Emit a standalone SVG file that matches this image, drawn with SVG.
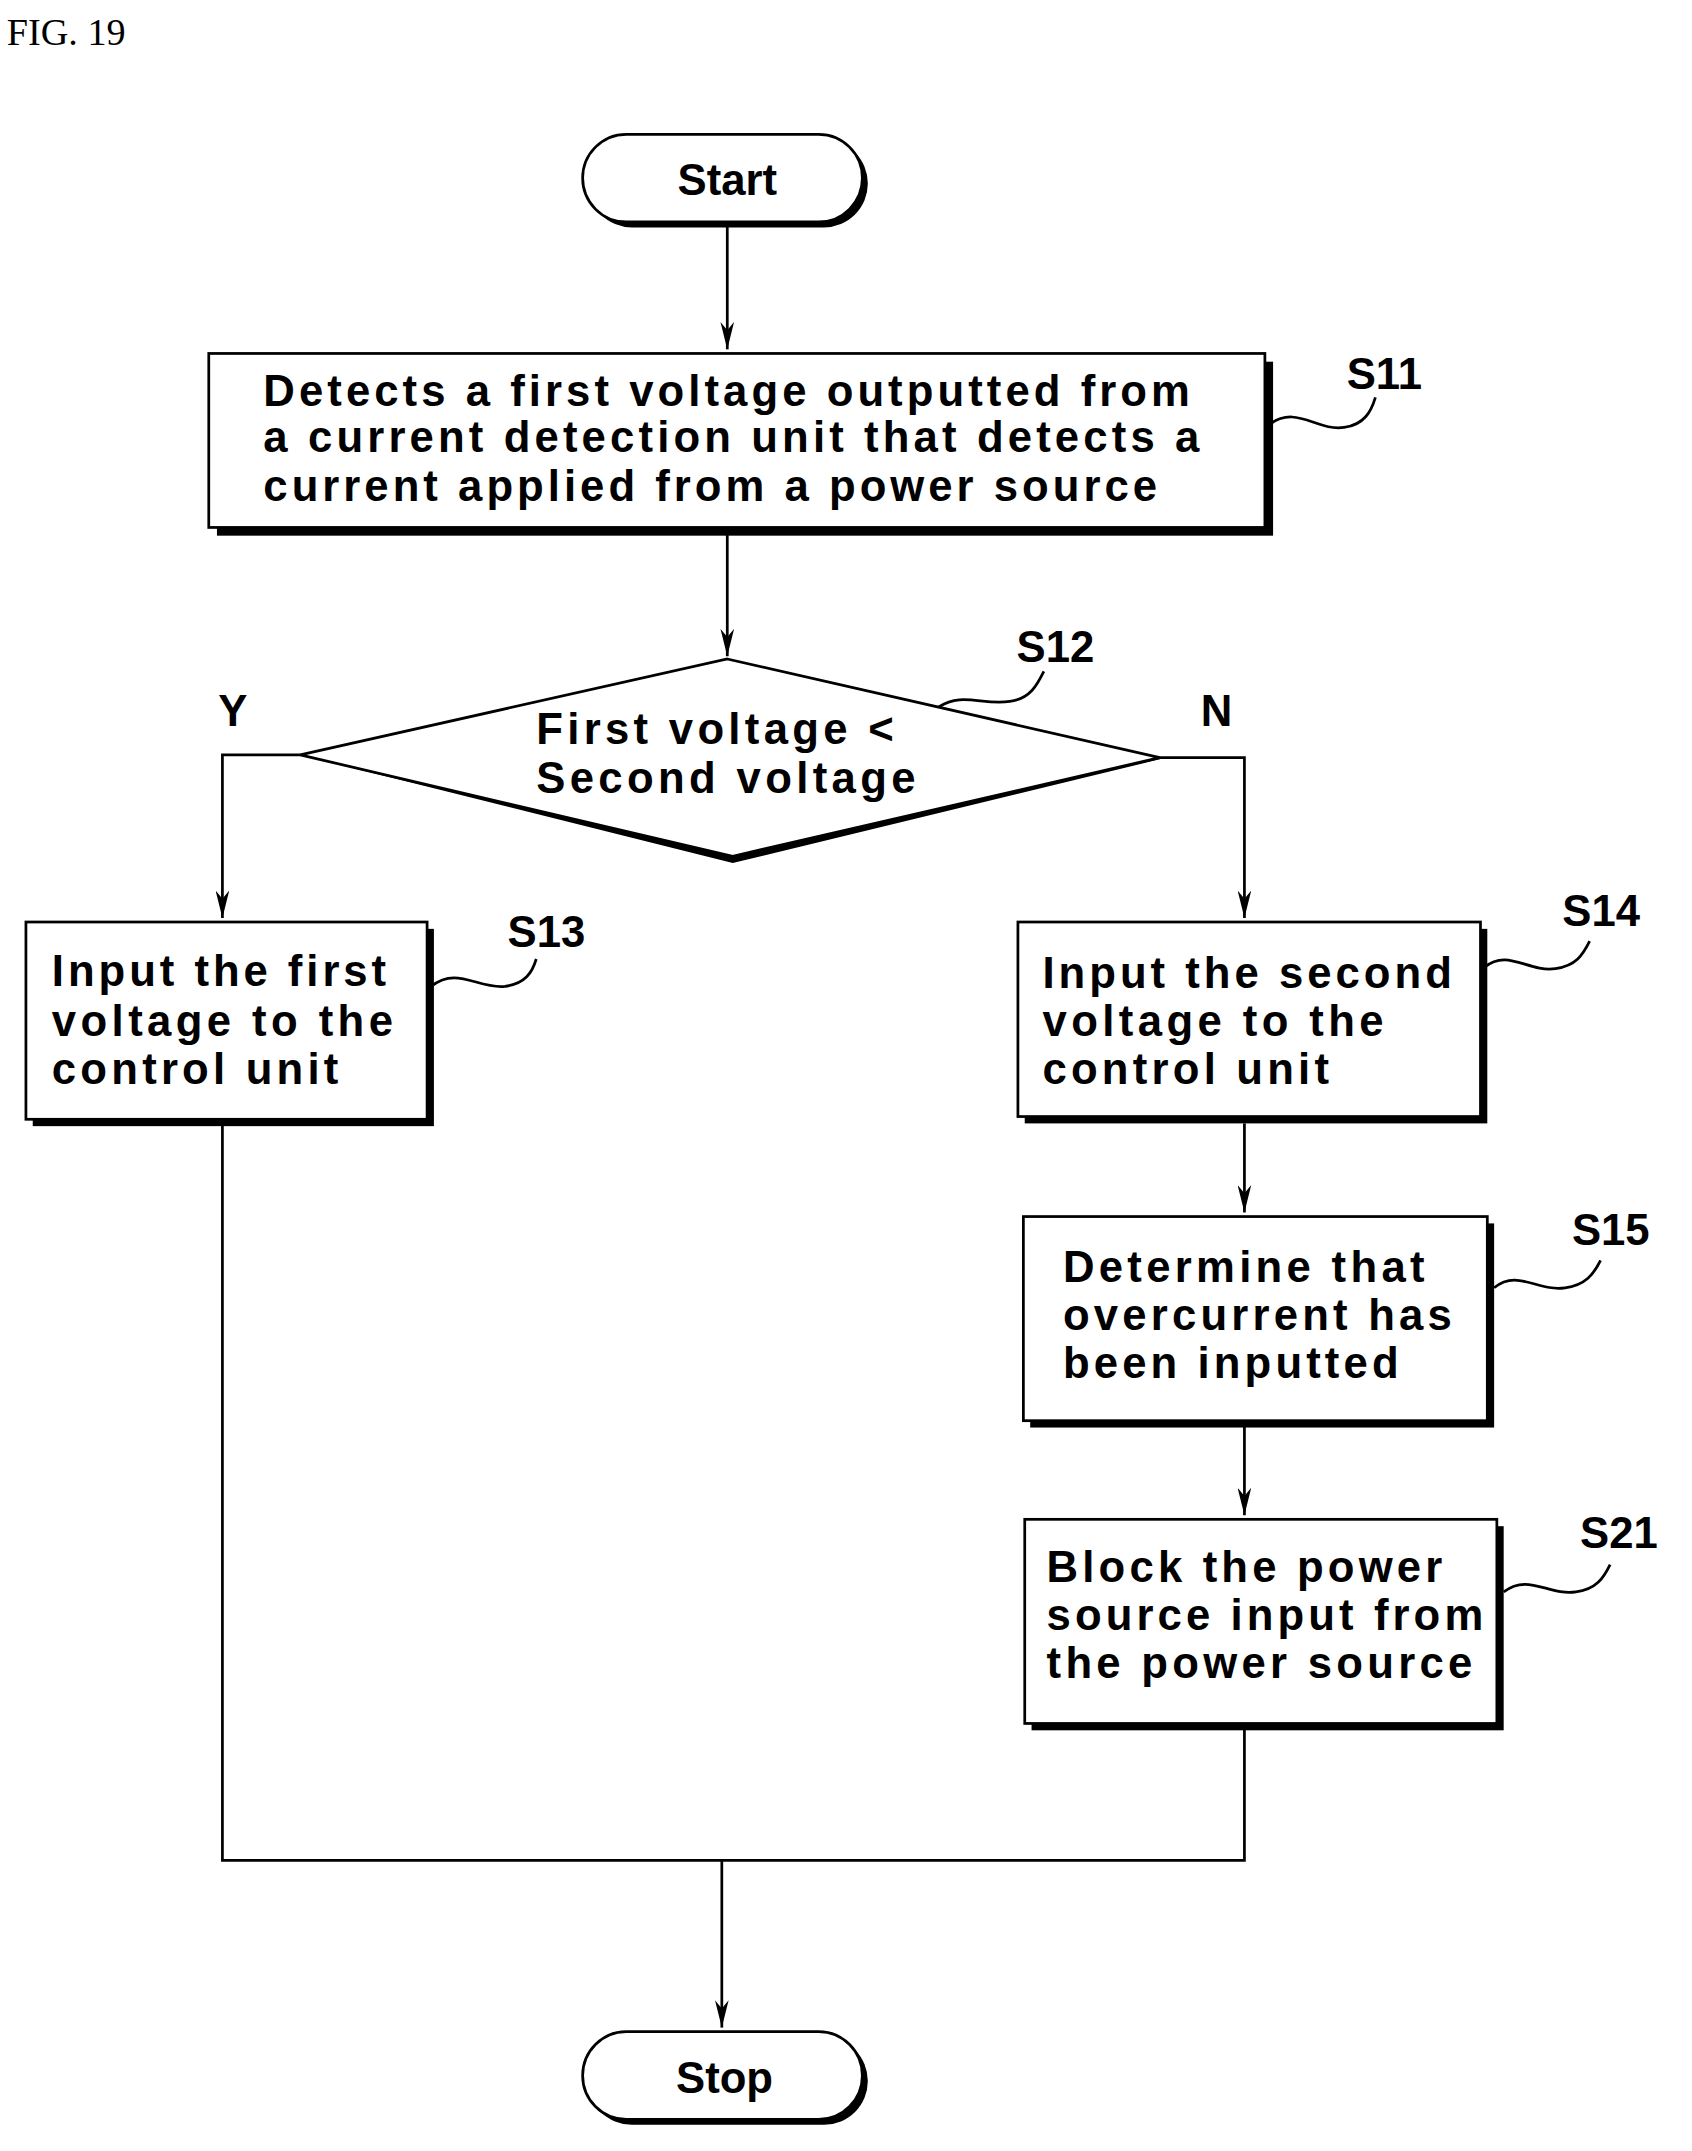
<svg xmlns="http://www.w3.org/2000/svg" width="1692" height="2151" viewBox="0 0 1692 2151">
<defs>
<style>
.b{fill:#fff;stroke:#000;stroke-width:2}
.sh{fill:#000}
.t{font-family:"Liberation Sans",Arial,sans-serif;font-weight:bold;font-size:32px;fill:#000}
.l{fill:none;stroke:#000;stroke-width:2}
</style>
<marker id="a" viewBox="0 0 10 20" refX="5" refY="20" markerWidth="10" markerHeight="20" markerUnits="userSpaceOnUse" orient="auto-start-reverse">
<path d="M0,0 L5,20 L10,0 L5,6 Z" fill="#000" transform="rotate(0)"/>
</marker>
<marker id="d" viewBox="0 0 20 10" refX="20" refY="5" markerWidth="20" markerHeight="10" markerUnits="userSpaceOnUse" orient="auto">
<path d="M0,0 L20,5 L0,10 L6,5 Z" fill="#000"/>
</marker>
</defs>
<rect width="1692" height="2151" fill="#fff"/>
<g transform="scale(1.3645,1.37)">
<text x="5" y="33" style="font-family:'Liberation Serif',serif;font-size:28px">FIG. 19</text>
<g id="connectors">
<line class="l" x1="533" y1="165" x2="533" y2="255" marker-end="url(#d)"/>
<line class="l" x1="533" y1="390" x2="533" y2="479" marker-end="url(#d)"/>
<polyline class="l" points="220,551 163,551 163,670" marker-end="url(#d)"/>
<polyline class="l" points="850,553 912,553 912,670" marker-end="url(#d)"/>
<line class="l" x1="912" y1="820" x2="912" y2="885" marker-end="url(#d)"/>
<line class="l" x1="912" y1="1041" x2="912" y2="1106" marker-end="url(#d)"/>
<polyline class="l" points="163,820 163,1358 912,1358 912,1262"/>
<line class="l" x1="529" y1="1358" x2="529" y2="1480" marker-end="url(#d)"/>
<text class="t" x="160" y="530">Y</text>
<text class="t" x="880" y="530">N</text>
</g>
<g id="start">
<rect class="sh" x="431" y="102" width="205" height="64" rx="32"/>
<rect class="b" x="427" y="98" width="205" height="64" rx="32"/>
<text class="t" x="533" y="142" text-anchor="middle">Start</text>
</g>
<g id="s11">
<rect class="sh" x="159" y="264" width="774" height="127"/>
<rect class="b" x="153" y="258" width="774" height="127"/>
<text class="t" x="193" y="296" textLength="679" lengthAdjust="spacing">Detects a first voltage outputted from</text>
<text class="t" x="193" y="330" textLength="686" lengthAdjust="spacing">a current detection unit that detects a</text>
<text class="t" x="193" y="366" textLength="655" lengthAdjust="spacing">current applied from a power source</text>
<path class="l" d="M930,310 C950,295 965,315 985,312 C1000,310 1005,300 1008,290"/>
<text class="t" x="987" y="284">S11</text>
</g>
<g id="s12">
<polygon class="sh" points="220,551 537,630 855,553 850,553 537,621"/>
<polygon class="b" points="533,481 850,553 537,625 220,551"/>
<text class="t" x="393" y="543" textLength="262" lengthAdjust="spacing">First voltage &lt;</text>
<text class="t" x="393" y="579" textLength="278" lengthAdjust="spacing">Second voltage</text>
<path class="l" d="M688,516 C705,505 720,515 740,512 C755,510 760,500 765,490"/>
<text class="t" x="745" y="483">S12</text>
</g>
<g id="s13">
<rect class="sh" x="24" y="678" width="294" height="144"/>
<rect class="b" x="19" y="673" width="294" height="144"/>
<text class="t" x="38" y="720" textLength="245" lengthAdjust="spacing">Input the first</text>
<text class="t" x="38" y="756" textLength="250" lengthAdjust="spacing">voltage to the</text>
<text class="t" x="38" y="791" textLength="210" lengthAdjust="spacing">control unit</text>
<path class="l" d="M316,720 C335,705 350,722 370,720 C385,718 390,710 393,700"/>
<text class="t" x="372" y="691">S13</text>
</g>
<g id="s14">
<rect class="sh" x="751" y="678" width="339" height="142"/>
<rect class="b" x="746" y="673" width="339" height="142"/>
<text class="t" x="764" y="721" textLength="300" lengthAdjust="spacing">Input the second</text>
<text class="t" x="764" y="756" textLength="250" lengthAdjust="spacing">voltage to the</text>
<text class="t" x="764" y="791" textLength="210" lengthAdjust="spacing">control unit</text>
<path class="l" d="M1088,706 C1105,692 1120,710 1140,707 C1155,705 1160,697 1165,687"/>
<text class="t" x="1145" y="676">S14</text>
</g>
<g id="s15">
<rect class="sh" x="755" y="893" width="340" height="149"/>
<rect class="b" x="750" y="888" width="340" height="149"/>
<text class="t" x="779" y="936" textLength="265" lengthAdjust="spacing">Determine that</text>
<text class="t" x="779" y="971" textLength="285" lengthAdjust="spacing">overcurrent has</text>
<text class="t" x="779" y="1006" textLength="246" lengthAdjust="spacing">been inputted</text>
<path class="l" d="M1095,940 C1112,926 1127,943 1147,940 C1162,938 1168,930 1173,920"/>
<text class="t" x="1152" y="909">S15</text>
</g>
<g id="s21">
<rect class="sh" x="756" y="1114" width="346" height="149"/>
<rect class="b" x="751" y="1109" width="346" height="149"/>
<text class="t" x="767" y="1155" textLength="290" lengthAdjust="spacing">Block the power</text>
<text class="t" x="767" y="1190" textLength="320" lengthAdjust="spacing">source input from</text>
<text class="t" x="767" y="1225" textLength="312" lengthAdjust="spacing">the power source</text>
<path class="l" d="M1102,1162 C1120,1148 1135,1165 1155,1162 C1170,1160 1175,1152 1180,1142"/>
<text class="t" x="1158" y="1130">S21</text>
</g>
<g id="stop">
<rect class="sh" x="431" y="1487" width="205" height="64" rx="32"/>
<rect class="b" x="427" y="1483" width="205" height="64" rx="32"/>
<text class="t" x="531" y="1528" text-anchor="middle">Stop</text>
</g>
</g>
</svg>
